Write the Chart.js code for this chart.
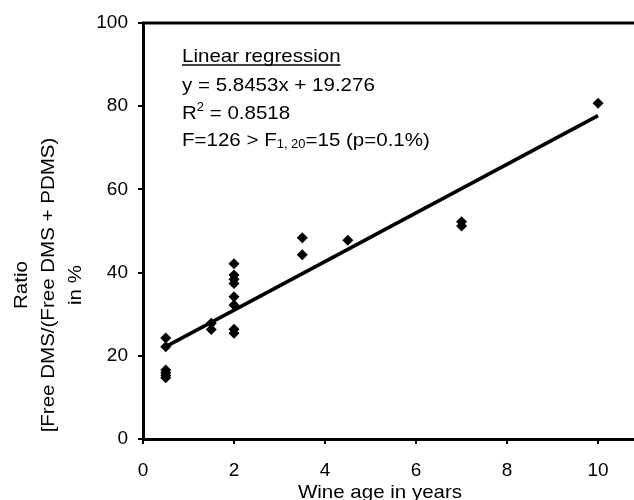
<!DOCTYPE html>
<html><head><meta charset="utf-8">
<script src="https://cdn.jsdelivr.net/npm/chart.js@4"></script>
<style>html,body{margin:0;padding:0;background:#fff;overflow:hidden}</style>
</head><body>
<canvas id="c" width="640" height="500"></canvas>
<script>
// ---- data ----
const ageYears = [0.5,0.5,0.5,0.5,0.5,0.5, 1.5,1.5, 2,2,2,2,2,2,2,2, 3.5,3.5, 4.5, 7,7, 10];
const ratioPct = [24.3,22.2,16.6,15.9,15.3,14.7, 27.8,26.3, 42.1,39.4,38.4,37.4,34.2,32.2,26.4,25.4, 48.4,44.3, 47.8, 52.2,51.2, 80.7];
const fitRange = [0.5, 10];
const fitSlope = 5.8453;
const fitIntercept = 19.276;
const xTickValues = [0,2,4,6,8,10];
const yTickValues = [0,20,40,60,80,100];
const xTitle = 'Wine age in years';
const yTitleLines = ['Ratio', '[Free DMS/(Free DMS + PDMS)', 'in %'];

const FONT = "'Liberation Sans', Arial, Helvetica, sans-serif";
const SX = 1.08; // horizontal widening of the reference's lettering

const scatterData = ageYears.map((x,i)=>({x, y: ratioPct[i]}));
const fitData = fitRange.map(x=>({x, y: fitSlope*x + fitIntercept}));

function txt(ctx, s, x, y, align){
  const w = ctx.measureText(s).width * SX;
  ctx.save();
  ctx.translate(align === 'center' ? x - w/2 : x, y);
  ctx.scale(SX, 1);
  ctx.textAlign = 'left';
  ctx.fillText(s, 0, 0);
  ctx.restore();
  return w;
}

const decor = {
  id: 'decor',
  afterDraw(chart){
    const {ctx, chartArea:a} = chart;
    ctx.save();
    // top frame line
    ctx.strokeStyle = '#000'; ctx.lineWidth = 3;
    ctx.beginPath(); ctx.moveTo(a.left-1.5, a.top); ctx.lineTo(a.right, a.top); ctx.stroke();

    ctx.fillStyle = '#000';
    ctx.textBaseline = 'alphabetic';
    const big = '19px ' + FONT, small = '12px ' + FONT;
    const x0 = 182;
    ctx.font = big;
    const w1 = txt(ctx, 'Linear regression', x0, 62);
    ctx.lineWidth = 1.5;
    ctx.beginPath(); ctx.moveTo(x0, 65); ctx.lineTo(x0 + w1, 65); ctx.stroke();
    txt(ctx, 'y = ' + fitSlope + 'x + ' + fitIntercept, x0, 91);
    let x = x0;
    x += txt(ctx, 'R', x, 119);
    ctx.font = small; x += txt(ctx, '2', x, 111);
    ctx.font = big; txt(ctx, ' = 0.8518', x, 119);
    x = x0;
    x += txt(ctx, 'F=126 > F', x, 146);
    ctx.font = small; x += txt(ctx, '1, 20', x, 148);
    ctx.font = big; txt(ctx, '=15 (p=0.1%)', x, 146);

    // x axis title
    txt(ctx, xTitle, 380, 498, 'center');
    // y axis title (rotated)
    ctx.translate(0, 285);
    ctx.rotate(-Math.PI/2);
    const bases = [27, 54, 81];
    yTitleLines.forEach((s,i)=> txt(ctx, s, 0, bases[i], 'center'));
    ctx.restore();
  }
};

new Chart(document.getElementById('c'), {
  type: 'scatter',
  data: {
    datasets: [
      { type:'line', data: fitData, borderColor:'#000', borderWidth:3.5, pointRadius:0, fill:false, order:2 },
      { data: scatterData, pointStyle:'rectRot', pointRadius:5.5, backgroundColor:'#000', borderColor:'#000', borderWidth:0, order:1 }
    ]
  },
  options: {
    responsive:false, animation:false,
    layout:{ padding:{ top:23, left:0, right:0, bottom:0 } },
    plugins:{ legend:{display:false}, tooltip:{enabled:false} },
    scales:{
      x:{
        type:'linear', min:0, max:10.8,
        afterBuildTicks: s => { s.ticks = xTickValues.map(v=>({value:v})); },
        afterFit: s => { s.height = 61; },
        grid:{ drawOnChartArea:false, drawTicks:true, tickLength:5, color:'#000', lineWidth:2 },
        border:{ display:true, color:'#000', width:3 },
        ticks:{ color:'#000', font:{ family:FONT, size:19 }, padding:15, maxRotation:0 }
      },
      y:{
        type:'linear', min:0, max:100,
        afterBuildTicks: s => { s.ticks = yTickValues.map(v=>({value:v})); },
        afterFit: s => { s.width = 143; },
        grid:{ drawOnChartArea:false, drawTicks:true, tickLength:5, color:'#000', lineWidth:2 },
        border:{ display:true, color:'#000', width:3 },
        ticks:{ color:'#000', font:{ family:FONT, size:19 }, padding:10 }
      }
    }
  },
  plugins:[decor]
});
</script>
</body></html>
